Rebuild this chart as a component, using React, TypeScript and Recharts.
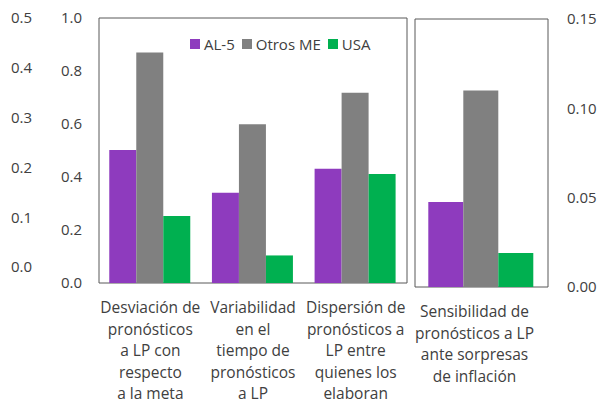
import { BarChart, Bar, XAxis, YAxis, ReferenceArea } from "recharts";

const seriesNames = ["AL-5", "Otros ME", "USA"];
const seriesColors = ["#8E3BBE", "#808080", "#00B050"];

const leftLabels = [
  ["Desviación de", "pronósticos", "a LP con", "respecto", "a la meta"],
  ["Variabilidad", "en el", "tiempo de", "pronósticos", "a LP"],
  ["Dispersión de", "pronósticos a", "LP entre", "quienes los", "elaboran"],
];
const al5 = [0.502, 0.341, 0.431];
const otrosMe = [0.87, 0.599, 0.718];
const usa = [0.253, 0.104, 0.411];

const rightLabels = [["Sensibilidad de", "pronósticos a LP", "ante sorpresas", "de inflación"]];
const al5Sens = [0.0476];
const otrosMeSens = [0.11];
const usaSens = [0.019];

const innerTicks = [0, 0.2, 0.4, 0.6, 0.8, 1.0];
const outerTicks = [0, 0.1, 0.2, 0.3, 0.4, 0.5];
const rightTicks = [0, 0.05, 0.1, 0.15];
// boundaries between the three left categories
const separatorTicks = [1, 2];

const leftData = leftLabels.map((l, i) => ({ name: l.join(" "), al5: al5[i], otros: otrosMe[i], usa: usa[i] }));
const rightData = rightLabels.map((l, i) => ({
  name: l.join(" "),
  al5: al5Sens[i],
  otros: otrosMeSens[i],
  usa: usaSens[i],
}));

const FONT = "'Open Sans', sans-serif";
const TEXT = "#404040";
const FRAME = "#595959";
const tickStyle = { fill: TEXT, fontSize: 15, fontFamily: FONT };

function makeCatTick(labels: string[][], dx: number) {
  return (props: any) => {
    const { x, y, payload } = props;
    const lines = labels[payload.index] || [];
    return (
      <text x={x + dx} y={y} textAnchor="middle" fill={TEXT} fontSize={15.5} fontFamily={FONT}>
        {lines.map((l, i) => (
          <tspan key={i} x={x + dx} dy={i === 0 ? 30 : 21.5}>
            {l}
          </tspan>
        ))}
      </text>
    );
  };
}

const emptyTick = () => <g />;

export default function App() {
  return (
    <div style={{ position: "absolute", left: 0, top: 0, width: 599, height: 404, background: "#fff" }}>
      <div style={{ position: "absolute", left: 0, top: 0 }}>
        <BarChart
          width={410}
          height={404}
          data={leftData}
          margin={{ top: 18, right: 3, bottom: 0, left: 0 }}
          barCategoryGap="10%"
          barGap={0}
        >
          <XAxis
            dataKey="name"
            axisLine={false}
            tickLine={false}
            tickSize={0}
            tickMargin={0}
            interval={0}
            height={121}
            tick={makeCatTick(leftLabels, 0)}
          />
          <XAxis
            xAxisId="sep"
            type="number"
            domain={[0, 3]}
            ticks={separatorTicks}
            mirror
            axisLine={false}
            tickLine={{ stroke: FRAME }}
            tickSize={4}
            height={0}
            tick={emptyTick}
          />
          <YAxis
            yAxisId="inner"
            domain={[0, 1]}
            ticks={innerTicks}
            tickFormatter={(v) => v.toFixed(1)}
            axisLine={false}
            tickLine={false}
            tickSize={0}
            tickMargin={17}
            width={59}
            tick={tickStyle}
          />
          <YAxis
            yAxisId="outer"
            domain={[-0.032, 0.5]}
            allowDataOverflow
            ticks={outerTicks}
            tickFormatter={(v) => v.toFixed(1)}
            axisLine={false}
            tickLine={false}
            tickSize={0}
            tickMargin={8}
            width={40}
            tick={tickStyle}
          />
          <YAxis
            yAxisId="innerMarks"
            mirror
            domain={[0, 1]}
            ticks={[0.2, 0.4, 0.6, 0.8]}
            axisLine={false}
            tickLine={{ stroke: FRAME }}
            tickSize={4}
            width={0}
            tick={emptyTick}
          />
          <ReferenceArea yAxisId="inner" y1={0} y2={1} fill="none" stroke={FRAME} strokeWidth={1} />
          <Bar yAxisId="inner" dataKey="al5" fill={seriesColors[0]} isAnimationActive={false} />
          <Bar yAxisId="inner" dataKey="otros" fill={seriesColors[1]} isAnimationActive={false} />
          <Bar yAxisId="inner" dataKey="usa" fill={seriesColors[2]} isAnimationActive={false} />
        </BarChart>
      </div>
      <div style={{ position: "absolute", left: 410, top: 0 }}>
        <BarChart
          width={189}
          height={404}
          data={rightData}
          margin={{ top: 19, right: 0, bottom: 0, left: 5 }}
          barCategoryGap="10%"
          barGap={0}
        >
          <XAxis
            dataKey="name"
            axisLine={false}
            tickLine={false}
            tickSize={0}
            tickMargin={0}
            interval={0}
            height={117}
            tick={makeCatTick(rightLabels, -7)}
          />
          <YAxis
            yAxisId="right"
            orientation="right"
            domain={[0, 0.15]}
            ticks={rightTicks}
            tickFormatter={(v) => v.toFixed(2)}
            axisLine={false}
            tickLine={false}
            tickSize={0}
            tickMargin={19}
            width={51}
            tick={tickStyle}
          />
          <YAxis
            yAxisId="rightMarks"
            orientation="right"
            mirror
            domain={[0, 0.15]}
            ticks={[0.05, 0.1]}
            axisLine={false}
            tickLine={{ stroke: FRAME }}
            tickSize={4}
            width={0}
            tick={emptyTick}
          />
          <ReferenceArea yAxisId="right" y1={0} y2={0.15} fill="none" stroke={FRAME} strokeWidth={1} />
          <Bar yAxisId="right" dataKey="al5" fill={seriesColors[0]} isAnimationActive={false} />
          <Bar yAxisId="right" dataKey="otros" fill={seriesColors[1]} isAnimationActive={false} />
          <Bar yAxisId="right" dataKey="usa" fill={seriesColors[2]} isAnimationActive={false} />
        </BarChart>
      </div>
      <div
        style={{
          position: "absolute",
          left: 190,
          top: 34,
          display: "flex",
          alignItems: "center",
          fontFamily: FONT,
          fontSize: 15,
          color: TEXT,
          lineHeight: "20px",
        }}
      >
        {seriesNames.map((n, i) => (
          <div key={n} style={{ display: "flex", alignItems: "center", marginRight: 7 }}>
            <span style={{ width: 10, height: 10, background: seriesColors[i], marginRight: 4 }} />
            <span>{n}</span>
          </div>
        ))}
      </div>
    </div>
  );
}
